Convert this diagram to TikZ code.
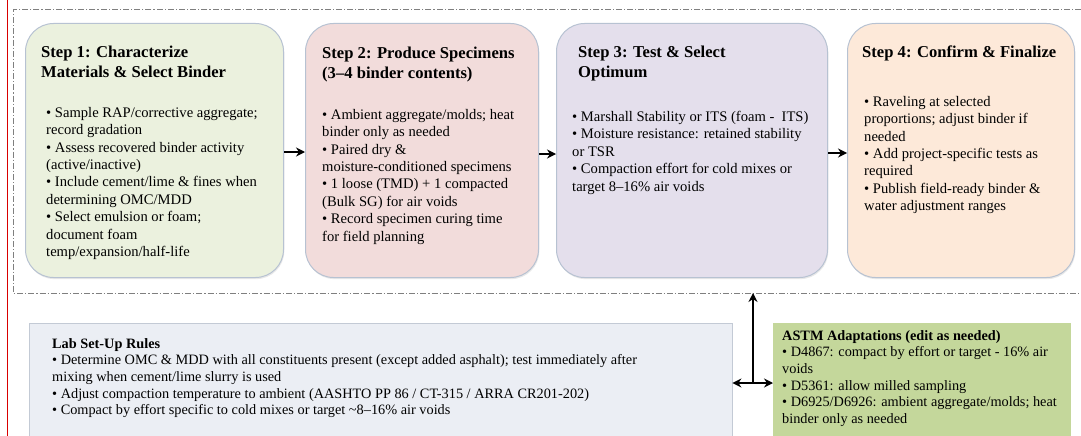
\documentclass[tikz,border=0pt]{standalone}
\usepackage{fontspec}
\setmainfont{Liberation Serif}
\usetikzlibrary{arrows.meta,positioning,calc,shadows}

\definecolor{stepA}{HTML}{EBF1DE}
\definecolor{stepB}{HTML}{F2DCDB}
\definecolor{stepC}{HTML}{E4DFEC}
\definecolor{stepD}{HTML}{FDE9D9}
\definecolor{labfill}{HTML}{EBEEF4}
\definecolor{labedge}{HTML}{C3CAD5}
\definecolor{astmfill}{HTML}{C4D79B}
\definecolor{edge}{HTML}{B7C2D2}
\definecolor{frameline}{HTML}{7F7F7F}

\tikzset{
	stepbox/.style={draw=edge, line width=1pt, rounded corners=28pt, anchor=north west, inner sep=0pt,
		drop shadow={opacity=0.18, shadow xshift=0.8pt, shadow yshift=-1.6pt}},
	head/.style={anchor=north west, inner sep=0pt, align=left, font=\fontsize{16.6}{19.8}\selectfont\bfseries},
	body/.style={anchor=north west, inner sep=0pt, align=left, font=\fontsize{14.6}{17.4}\selectfont},
	note/.style={anchor=north west, inner sep=0pt, align=left, font=\fontsize{14.3}{16.7}\selectfont},
	flow/.style={-{Stealth[length=9pt,width=9pt]}, line width=2.4pt},
}

\begin{document}
\begin{tikzpicture}[x=1pt,y=-1pt]
	\useasboundingbox (0,0) rectangle (1081,436);
	
	\draw[red!85!black, line width=1pt] (7,0) -- (7,436);
	\draw[frameline, line width=1pt, dash pattern=on 6pt off 2pt on 1.2pt off 2pt]
		(1081,10) -- (13,10) -- (13,293) -- (1081,293);
	
	% the four steps
	\node[stepbox, fill=stepA, minimum width=258pt, minimum height=254pt] (s1) at (25,23) {};
	\node[stepbox, fill=stepB, minimum width=233pt, minimum height=254pt] (s2) at (305,23) {};
	\node[stepbox, fill=stepC, minimum width=271pt, minimum height=254pt] (s3) at (556,23) {};
	\node[stepbox, fill=stepD, minimum width=227pt, minimum height=254pt] (s4) at (847,23) {};
	
	\node[head] (t1) at (41,46) {Step 1: Characterize\\Materials \& Select Binder};
	\node[head] (t2) at (322,47) {Step 2: Produce Specimens\\(3–4 binder contents)};
	\node[head] (t3) at (578,46) {Step 3: Test \& Select\\Optimum};
	\node[head] (t4) at (862,46) {Step 4: Confirm \& Finalize};
	
	\node[body] (b1) at (46,107) {\textbullet{} Sample RAP/corrective aggregate;\\
		record gradation\\
		\textbullet{} Assess recovered binder activity\\
		(active/inactive)\\
		\textbullet{} Include cement/lime \& fines when\\
		determining OMC/MDD\\
		\textbullet{} Select emulsion or foam;\\
		document foam\\
		temp/expansion/half-life};
	\node[body] (b2) at (322,109) {\textbullet{} Ambient aggregate/molds; heat\\
		binder only as needed\\
		\textbullet{} Paired dry \&\\
		moisture-conditioned specimens\\
		\textbullet{} 1 loose (TMD) + 1 compacted\\
		(Bulk SG) for air voids\\
		\textbullet{} Record specimen curing time\\
		for field planning};
	\node[body] (b3) at (572,111) {\textbullet{} Marshall Stability or ITS (foam -\ \ ITS)\\
		\textbullet{} Moisture resistance: retained stability\\
		or TSR\\
		\textbullet{} Compaction effort for cold mixes or\\
		target 8–16\% air voids};
	\node[body] (b4) at (864,96) {\textbullet{} Raveling at selected\\
		proportions; adjust binder if\\
		needed\\
		\textbullet{} Add project-specific tests as\\
		required\\
		\textbullet{} Publish field-ready binder \&\\
		water adjustment ranges};
	
	\draw[flow] (s1.east |- 0,152) -- (s2.west |- 0,152);
	\draw[flow] (s2.east |- 0,154) -- (s3.west |- 0,154);
	\draw[flow] (s3.east |- 0,153) -- (s4.west |- 0,153);
	
	% notes under the frame
	\node[draw=labedge, fill=labfill, anchor=north west, inner sep=0pt,
		minimum width=703pt, minimum height=125pt] (lab) at (29,323) {};
	\node[fill=astmfill, anchor=north west, inner sep=0pt,
		minimum width=298pt, minimum height=125pt] (astm) at (773,323) {};
	
	\node[note] (labtext) at (52,338) {\textbf{Lab Set-Up Rules}\\
		\textbullet{} Determine OMC \& MDD with all constituents present (except added asphalt); test immediately after\\
		mixing when cement/lime slurry is used\\
		\textbullet{} Adjust compaction temperature to ambient (AASHTO PP 86 / CT-315 / ARRA CR201-202)\\
		\textbullet{} Compact by effort specific to cold mixes or target \textasciitilde 8–16\% air voids};
	\node[note] (astmtext) at (782,330) {\textbf{ASTM Adaptations (edit as needed)}\\
		\textbullet{} D4867: compact by effort or target - 16\% air\\
		voids\\
		\textbullet{} D5361: allow milled sampling\\
		\textbullet{} D6925/D6926: ambient aggregate/molds; heat\\
		binder only as needed};
	
	\coordinate (hub) at (753,383);
	\coordinate (frame) at (753,293);
	\draw[flow] (hub) -- (frame);
	\draw[flow] (hub) -- (lab.east |- hub);
	\draw[flow] (hub) -- (astm.west |- hub);
\end{tikzpicture}
\end{document}
